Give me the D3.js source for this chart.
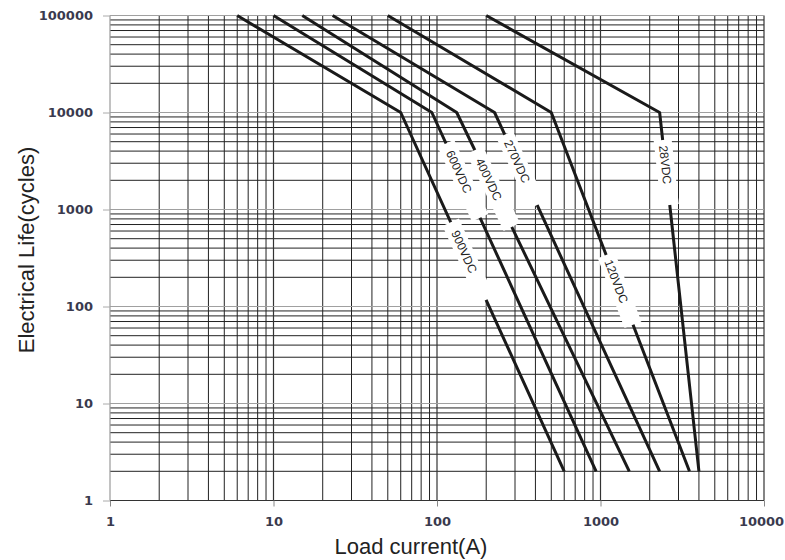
<!DOCTYPE html>
<html>
<head>
<meta charset="utf-8">
<script src="https://cdn.jsdelivr.net/npm/d3@7"></script>
<style>
  body { margin: 0; background: #fff; }
  .tick text { font-family: "DejaVu Sans", sans-serif; font-weight: bold; font-size: 13px; fill: #3a3a4e; }
  .title { font-family: "Liberation Sans", Arial, sans-serif; font-size: 22px; fill: #222; }
  .curve-label { font-family: "Liberation Sans", Arial, sans-serif; font-size: 12px; fill: #222; }
</style>
</head>
<body>
<svg id="chart" width="785" height="560"></svg>
<script>
// axis ticks
const currentTicks = [1, 10, 100, 1000, 10000];
const cycleTicks = [1, 10, 100, 1000, 10000, 100000];

// curves: [load current A, cycles]
const v900 = [[6, 100000], [60, 10000], [600, 2]];
const v600 = [[10, 100000], [93, 10000], [940, 2]];
const v400 = [[15, 100000], [132, 10000], [1500, 2]];
const v270 = [[23, 100000], [225, 10000], [2300, 2]];
const v120 = [[50, 100000], [500, 10000], [3500, 2]];
const v28 = [[200, 100000], [2300, 10000], [4000, 2]];

const curveNames = ["900VDC", "600VDC", "400VDC", "270VDC", "120VDC", "28VDC"];
// where each label breaks the steep part of its curve (cycles)
const gapTop = [740, 4800, 4100, 5900, 340, 5200];
const gapBottom = [117, 820, 660, 1110, 65, 1110];

const curves = [v900, v600, v400, v270, v120, v28];

const width = 785, height = 560;
const margin = {top: 15.5, right: 21, bottom: 59.5, left: 110};

const svg = d3.select("#chart");

const x = d3.scaleLog().domain([1, 10000]).range([margin.left, width - margin.right]);
const y = d3.scaleLog().domain([1, 100000]).range([height - margin.bottom, margin.top]);

// minor / major grid values
const minorX = [], minorY = [];
for (let e = 0; e < 5; e++) {
    for (let k = 2; k <= 9; k++) {
        const v = k * Math.pow(10, e);
        if (v < 10000) minorX.push(v);
        if (v < 100000) minorY.push(v);
    }
}

const grid = svg.append("g");

grid.selectAll(".vminor")
    .data(minorX)
    .enter().append("line")
    .attr("x1", d => x(d)).attr("x2", d => x(d))
    .attr("y1", y(1)).attr("y2", y(100000))
    .attr("stroke", "#222").attr("stroke-width", 1);

grid.selectAll(".hminor")
    .data(minorY)
    .enter().append("line")
    .attr("x1", x(1)).attr("x2", x(10000))
    .attr("y1", d => y(d)).attr("y2", d => y(d))
    .attr("stroke", "#222").attr("stroke-width", 1);

grid.selectAll(".vmajor")
    .data(currentTicks)
    .enter().append("line")
    .attr("x1", d => x(d)).attr("x2", d => x(d))
    .attr("y1", y(1)).attr("y2", y(100000))
    .attr("stroke", d => d == 1 ? "#999" : "#333").attr("stroke-width", 1.2);

grid.selectAll(".hmajor")
    .data(cycleTicks)
    .enter().append("line")
    .attr("x1", x(1)).attr("x2", x(10000))
    .attr("y1", d => y(d)).attr("y2", d => y(d))
    .attr("stroke", d => d == 1 ? "#333" : "#a0a0a0").attr("stroke-width", 1.2);

// axes
const xAxis = svg.append("g")
    .attr("transform", `translate(0, ${y(1)})`)
    .call(d3.axisBottom(x).tickValues(currentTicks).tickFormat(d3.format("d")).tickSize(6).tickPadding(10));
xAxis.select(".domain").remove();
xAxis.selectAll(".tick line").attr("stroke", "#888");
// last label would run past the right edge
xAxis.selectAll(".tick text").filter(d => d == 10000).attr("dx", -3);

const yAxis = svg.append("g")
    .attr("transform", `translate(${x(1)}, 0)`)
    .call(d3.axisLeft(y).tickValues(cycleTicks).tickFormat(d3.format("d")).tickSize(7).tickPadding(10));
yAxis.select(".domain").remove();
yAxis.selectAll(".tick line").attr("stroke", "#aaa");

// curves
const line = d3.line().x(d => x(d[0])).y(d => y(d[1]));

svg.append("g").selectAll("path")
    .data(curves)
    .enter().append("path")
    .attr("d", line)
    .attr("fill", "none")
    .attr("stroke", "#1a1a1a")
    .attr("stroke-width", 3)
    .attr("stroke-linejoin", "round");

// labels sit in a white break on the steep segment
const labels = svg.append("g");
curves.forEach((c, i) => {
    const x0 = x(c[1][0]), y0 = y(c[1][1]);
    const x1 = x(c[2][0]), y1 = y(c[2][1]);
    const t = (py) => (py - y0) / (y1 - y0);
    const ta = t(y(gapTop[i])), tb = t(y(gapBottom[i]));
    const ax = x0 + (x1 - x0) * ta, ay = y0 + (y1 - y0) * ta;
    const bx = x0 + (x1 - x0) * tb, by = y0 + (y1 - y0) * tb;
    const len = Math.hypot(bx - ax, by - ay);
    const angle = Math.atan2(by - ay, bx - ax) * 180 / Math.PI;

    const g = labels.append("g")
        .attr("transform", `translate(${ax}, ${ay}) rotate(${angle})`);
    g.append("rect")
        .attr("x", 0).attr("y", -9)
        .attr("width", len).attr("height", 18)
        .attr("fill", "#fff");
    g.append("text")
        .attr("class", "curve-label")
        .attr("x", len * 0.38)
        .attr("y", 0)
        .attr("dy", "0.35em")
        .attr("text-anchor", "middle")
        .text(curveNames[i]);
});

// titles
svg.append("text")
    .attr("class", "title")
    .attr("x", 411)
    .attr("y", 554)
    .attr("text-anchor", "middle")
    .text("Load current(A)");

svg.append("text")
    .attr("class", "title")
    .attr("transform", "translate(34, 250) rotate(-90)")
    .attr("text-anchor", "middle")
    .text("Electrical Life(cycles)");
</script>
</body>
</html>
